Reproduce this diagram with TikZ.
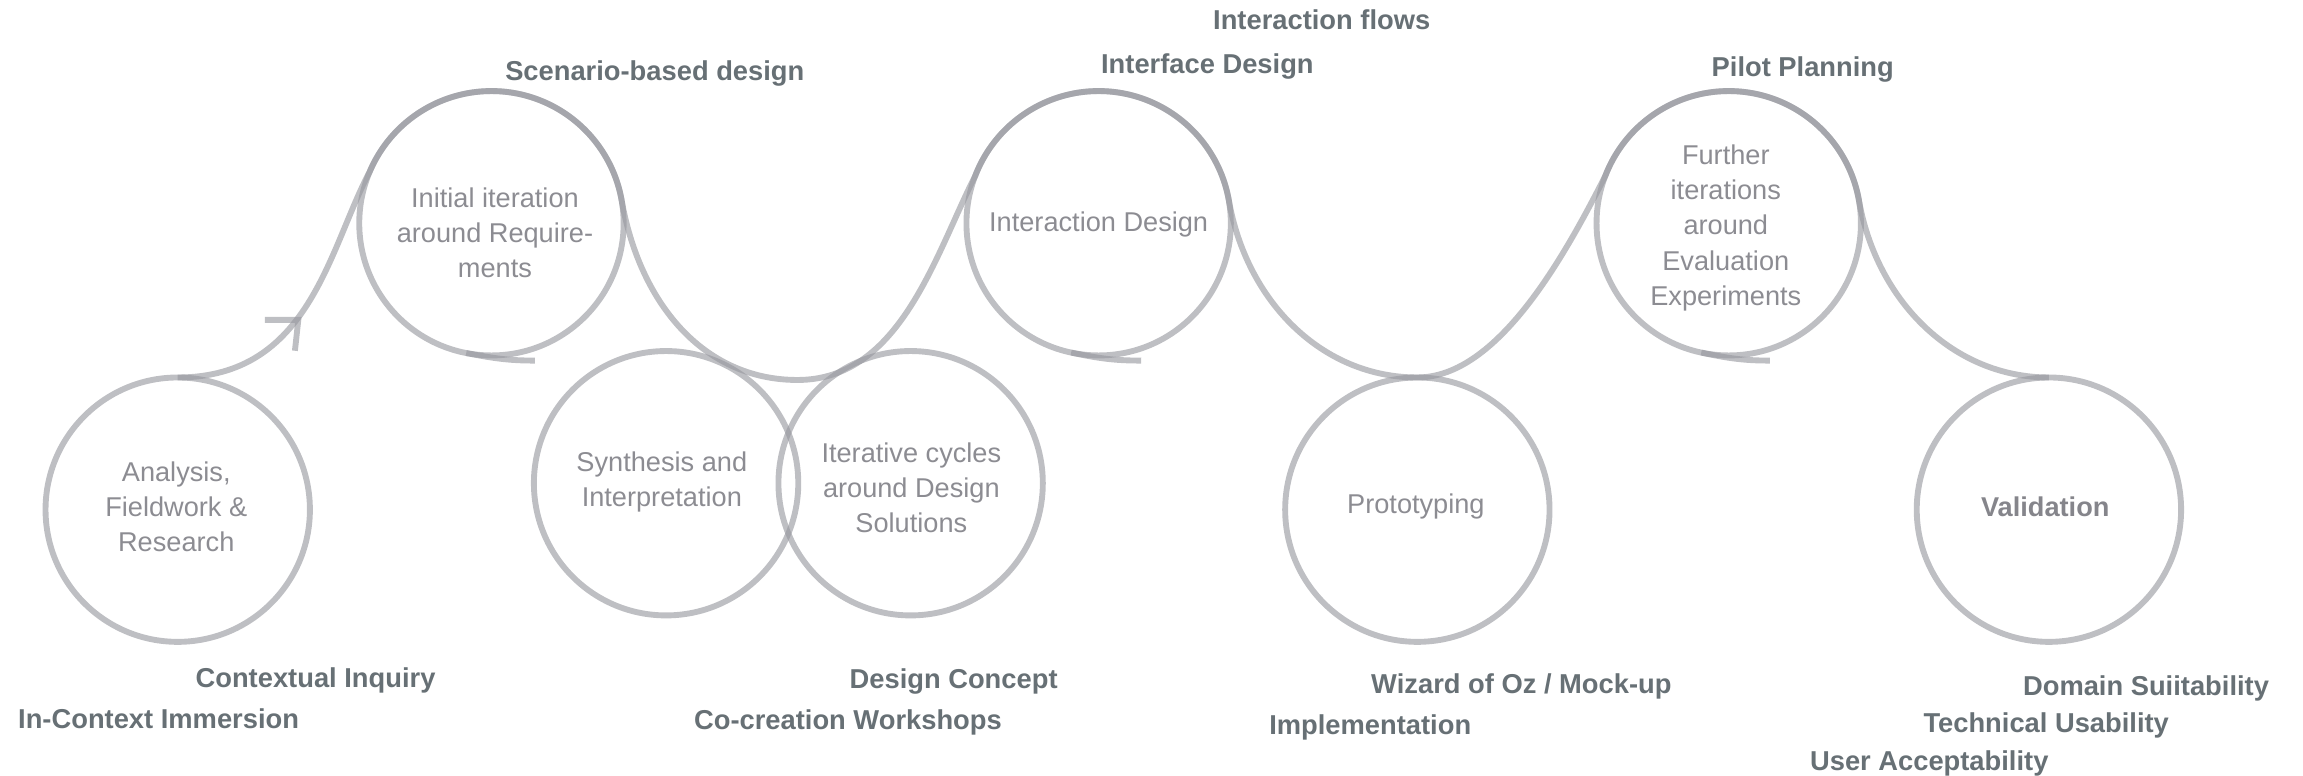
\documentclass[tikz,border=0pt]{standalone}
\usepackage{fontspec}
\setmainfont{Liberation Sans}
\usetikzlibrary{calc}
\definecolor{ringc}{RGB}{150,151,158}
\definecolor{labc}{RGB}{103,112,117}
\definecolor{txtc}{RGB}{140,140,146}
\begin{document}
\begin{tikzpicture}[x=1pt,y=1pt,
  ring/.style={circle,draw=ringc,draw opacity=0.62,line width=4pt,minimum size=180pt,inner sep=0pt,outer sep=0pt},
  wave/.style={draw=ringc,draw opacity=0.62,line width=4pt},
  lab/.style={text=labc,font=\bfseries\fontsize{18.6}{22}\selectfont,anchor=base west,inner sep=0pt},
  ctxt/.style={text=txtc,font=\fontsize{18.5}{23.9}\selectfont,align=center,inner sep=0pt}]
\useasboundingbox (0,0) rectangle (1568,-528.3);
% circles
\node[ring] (a1) at (121,-347) {};
\node[ring] (c2) at (334.6,-152) {};
\node[ring] (c3) at (453.5,-329) {};
\node[ring] (c4) at (620,-329) {};
\node[ring] (c5) at (748,-152) {};
\node[ring] (c6) at (965,-347) {};
\node[ring] (c7) at (1177,-152) {};
\node[ring] (c8) at (1395,-347) {};
% wave
\coordinate (t1) at (543,-258.7);
\draw[wave] (a1.north) .. controls +(90,0) and +(242:60) .. (c2.157)
  arc[start angle=157,end angle=10,radius=90pt]
  .. controls +(-80:70) and +(-65,0) .. (t1)
  .. controls +(70,0) and +(243:60) .. (c5.159)
  arc[start angle=159,end angle=10,radius=90pt]
  .. controls +(-80:70) and +(-65,0) .. (c6.north)
  .. controls +(55,0) and +(243:60) .. (c7.159)
  arc[start angle=159,end angle=10,radius=90pt]
  .. controls +(-80:70) and +(-65,0) .. (c8.north);
% tails
\coordinate (e2) at ($(c2)+(29.5,-93.5)$);
\coordinate (e5) at ($(c5)+(29,-93.5)$);
\coordinate (e7) at ($(c7)+(28,-93.5)$);
\draw[wave] (c2.259) to[out=-11,in=180] (e2);
\draw[wave] (c5.258) to[out=-12,in=180] (e5);
\draw[wave] (c7.258) to[out=-12,in=180] (e7);
% arrow head
\coordinate (tip) at (203.1,-217.8);
\draw[wave] ($(tip)+(-22.7,0)$) -- (tip) -- ($(tip)+(-2.3,-21)$);
% circle texts
\node[ctxt] (x1) at (120,-344.9) {Analysis,\\Fieldwork \&\\Research};
\node[ctxt] (x2) at (337,-158.3) {Initial iteration\\around Require-\\ments};
\node[ctxt] (x3) at (450.6,-328.3) {Synthesis and\\Interpretation};
\node[ctxt] (x4) at (620.5,-331.9) {Iterative cycles\\around Design\\Solutions};
\node[ctxt] (x5) at (748,-152.9) {Interaction Design};
\node[ctxt] (x6) at (964,-344.6) {Prototyping};
\node[ctxt] (x7) at (1175,-155.2) {Further\\iterations\\around\\Evaluation\\Experiments};
\node[ctxt,font=\bfseries\fontsize{18.5}{22}\selectfont,text=txtc!95!black] (x8) at (1392.5,-344.9) {Validation};
% labels
\node[lab] (l1) at (343.8,-54.5) {Scenario-based design};
\node[lab] (l2) at (825.8,-20.4) {Interaction flows};
\node[lab] (l3) at (749.5,-49.9) {Interface Design};
\node[lab] (l4) at (1165.2,-52.2) {Pilot Planning};
\node[lab] (l5) at (133,-468) {Contextual Inquiry};
\node[lab] (l6) at (12.2,-495.8) {In-Context Immersion};
\node[lab] (l7) at (578.3,-469) {Design Concept};
\node[lab] (l8) at (472.4,-496.5) {Co-creation Workshops};
\node[lab] (l9) at (933.4,-472) {Wizard of Oz / Mock-up};
\node[lab] (l10) at (864,-500.4) {Implementation};
\node[lab] (l11) at (1377.2,-473.5) {Domain Suiitability};
\node[lab] (l12) at (1309.4,-498.8) {Technical Usability};
\node[lab] (l13) at (1232.2,-524.6) {User Acceptability};
\end{tikzpicture}
\end{document}
